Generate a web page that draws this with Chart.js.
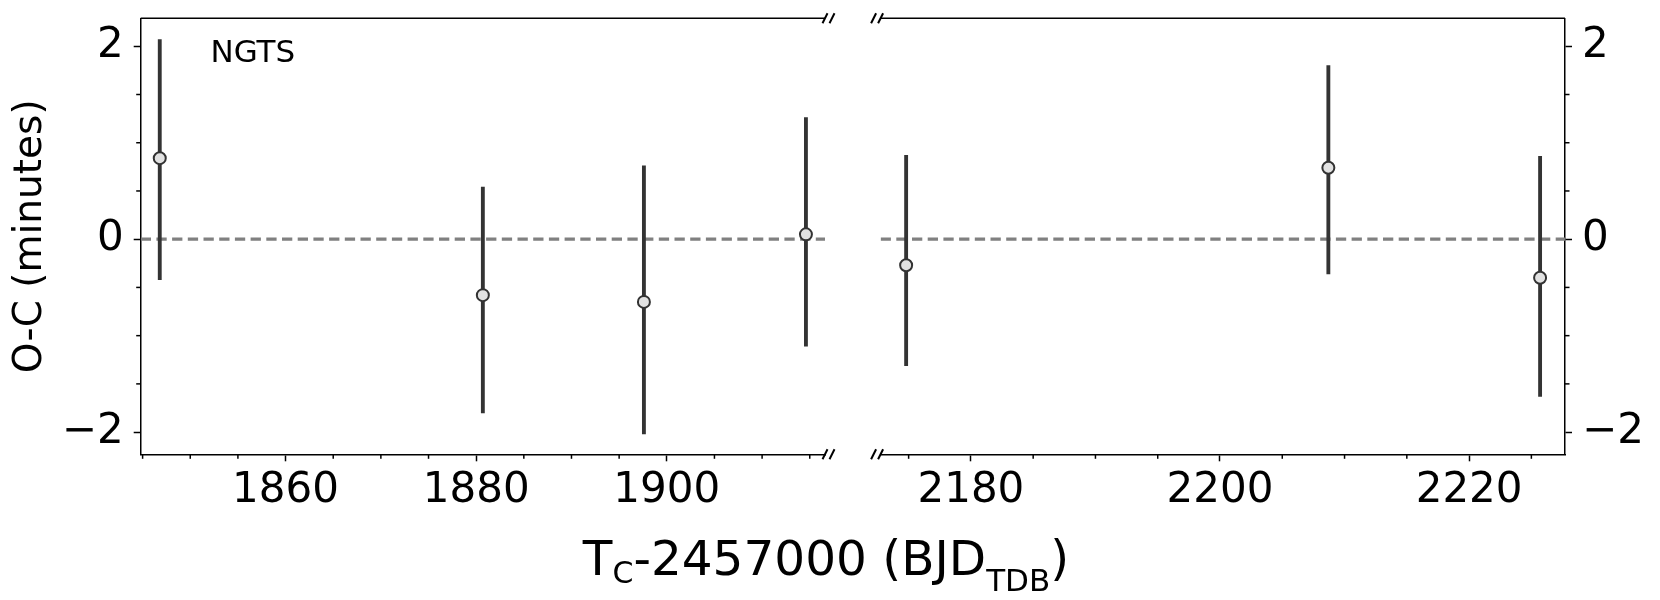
<!DOCTYPE html>
<html>
<head>
<meta charset="utf-8">
<script src="https://cdn.jsdelivr.net/npm/chart.js@4.4.1/dist/chart.umd.min.js"></script>
<style>
  body { margin: 0; background: #fff; }
  #wrap { position: relative; width: 1660px; height: 600px; font-family: 'DejaVu Sans', sans-serif; }
  #leftPanel { position: absolute; left: 0; top: 0; }
  #rightPanel { position: absolute; left: 853px; top: 0; }
  #xtitle { position: absolute; left: 0; width: 1652px; top: 528px; text-align: center;
            font-size: 48.5px; line-height: 60px; color: #000; white-space: nowrap; }
  #xtitle .sub1 { font-size: 30px; position: relative; top: 8px; }
  #xtitle .sub2 { font-size: 31px; position: relative; top: 16px; }
</style>
</head>
<body>
<div id="wrap">
  <canvas id="leftPanel" width="853" height="600"></canvas>
  <canvas id="rightPanel" width="807" height="600"></canvas>
  <div id="xtitle">T<span class="sub1">C</span>-2457000 (BJD<span class="sub2">TDB</span>)</div>
</div>
<script>
// NGTS transit timings, O-C in minutes
const leftEpochs = [1846.8, 1880.7, 1897.6, 1914.6];
const leftOC = [0.84, -0.58, -0.65, 0.05];
const leftErrUp = [1.23, 1.12, 1.41, 1.21];
const leftErrDown = [1.26, 1.22, 1.37, 1.16];

const rightEpochs = [2174.8, 2208.7, 2225.7];
const rightOC = [-0.27, 0.74, -0.40];
const rightErrUp = [1.14, 1.06, 1.26];
const rightErrDown = [1.04, 1.10, 1.23];

const leftRange = [1844.8, 1916.6];
const rightRange = [2172.75, 2227.7];
const ocRange = [-2.23, 2.29];

const leftXTicks = [1860, 1880, 1900];
const rightXTicks = [2180, 2200, 2220];
const ocTicks = [-2, 0, 2];

const FONT = 'DejaVu Sans';

function isMajor(list, v) {
  return list.some(function(t) { return Math.abs(t - v) < 1e-6; });
}

// minor ticks, frame top line and the "//" break marks
const framePlugin = {
  id: 'frame',
  afterDraw: function(chart, args, opts) {
    const ctx = chart.ctx;
    const a = chart.chartArea;
    ctx.save();
    ctx.strokeStyle = '#000';
    ctx.lineWidth = 1.5;

    // minor ticks
    const xs = chart.scales.x;
    xs.ticks.forEach(function(t) {
      if (isMajor(opts.xMajor, t.value)) return;
      const px = xs.getPixelForValue(t.value);
      ctx.beginPath();
      ctx.moveTo(px, a.bottom);
      ctx.lineTo(px, a.bottom + 4.5);
      ctx.stroke();
    });
    const ys = chart.scales.y;
    ys.ticks.forEach(function(t) {
      if (isMajor(ocTicks, t.value)) return;
      const py = ys.getPixelForValue(t.value);
      ctx.beginPath();
      if (opts.side === 'left') {
        ctx.moveTo(a.left, py);
        ctx.lineTo(a.left - 4.5, py);
      } else {
        ctx.moveTo(a.right, py);
        ctx.lineTo(a.right + 4.5, py);
      }
      ctx.stroke();
    });

    // top spine
    ctx.beginPath();
    ctx.moveTo(a.left, a.top);
    ctx.lineTo(a.right, a.top);
    ctx.stroke();

    // break marks
    const bx = opts.side === 'left' ? [a.right, a.right + 7] : [a.left - 7, a.left];
    ctx.lineWidth = 2;
    [a.top, a.bottom].forEach(function(yy) {
      bx.forEach(function(xx) {
        ctx.beginPath();
        ctx.moveTo(xx - 2.5, yy + 5);
        ctx.lineTo(xx + 2.5, yy - 5);
        ctx.stroke();
      });
    });

    // panel label
    if (opts.label) {
      ctx.fillStyle = '#000';
      ctx.font = '31px "' + FONT + '"';
      ctx.textBaseline = 'alphabetic';
      ctx.textAlign = 'left';
      ctx.fillText(opts.label, a.left + 0.102 * (a.right - a.left), a.bottom - 0.9 * (a.bottom - a.top));
    }
    ctx.restore();
  }
};

function makePanel(canvasId, side, epochs, oc, errUp, errDown, xRange, xMajor, label) {
  const bars = epochs.map(function(x, i) {
    return { x: x, y: [oc[i] - errDown[i], oc[i] + errUp[i]] };
  });
  const pts = epochs.map(function(x, i) { return { x: x, y: oc[i] }; });

  const yAxis = {
    type: 'linear',
    position: side,
    min: ocRange[0],
    max: ocRange[1],
    ticks: {
      stepSize: 0.5,
      includeBounds: false,
      autoSkip: false,
      padding: 10,
      color: '#000',
      font: { family: FONT, size: 42 },
      callback: function(v) {
        if (!isMajor(ocTicks, v)) return '';
        return v < 0 ? '\u2212' + Math.abs(v) : String(v);
      }
    },
    grid: {
      drawOnChartArea: false,
      drawTicks: true,
      tickLength: 7,
      tickWidth: 1.5,
      tickColor: function(c) { return c.tick && isMajor(ocTicks, c.tick.value) ? '#000' : 'rgba(0,0,0,0)'; }
    },
    border: { display: true, color: '#000', width: 1.5 },
    afterFit: function(s) {
      s.width = side === 'left' ? 140.7 : 95;
      s.paddingTop = 0;
      s.paddingBottom = 0;
    }
  };
  if (side === 'left') {
    yAxis.title = {
      display: true,
      text: 'O-C (minutes)',
      color: '#000',
      font: { family: FONT, size: 39 },
      padding: { top: 7, bottom: 0 }
    };
  }

  return new Chart(document.getElementById(canvasId), {
    type: 'scatter',
    data: {
      datasets: [
        {
          type: 'line',
          data: [{ x: xRange[0], y: 0 }, { x: xRange[1], y: 0 }],
          borderColor: '#808080',
          borderWidth: 3.2,
          borderDash: [10.3, 5.4],
          pointRadius: 0,
          order: 3
        },
        {
          type: 'bar',
          data: bars,
          backgroundColor: '#333333',
          borderWidth: 0,
          barThickness: 3.2,
          grouped: false,
          order: 2
        },
        {
          type: 'scatter',
          data: pts,
          pointRadius: 6,
          pointBorderWidth: 2,
          pointBackgroundColor: '#e2e2e2',
          pointBorderColor: '#333333',
          order: 1
        }
      ]
    },
    options: {
      responsive: false,
      animation: false,
      layout: {
        padding: side === 'left'
          ? { left: 0, right: 28, top: 18.3, bottom: 0 }
          : { left: 27.6, right: 0, top: 18.3, bottom: 0 }
      },
      plugins: {
        legend: { display: false },
        tooltip: { enabled: false },
        frame: { side: side, xMajor: xMajor, label: label }
      },
      scales: {
        x: {
          type: 'linear',
          position: 'bottom',
          min: xRange[0],
          max: xRange[1],
          offset: false,
          ticks: {
            stepSize: 5,
            includeBounds: false,
            autoSkip: false,
            maxRotation: 0,
            padding: 5,
            color: '#000',
            font: { family: FONT, size: 42 },
            callback: function(v) { return isMajor(xMajor, v) ? String(Math.round(v)) : ''; }
          },
          grid: {
            offset: false,
            drawOnChartArea: false,
            drawTicks: true,
            tickLength: 7,
            tickWidth: 1.5,
            tickColor: function(c) { return c.tick && isMajor(xMajor, c.tick.value) ? '#000' : 'rgba(0,0,0,0)'; }
          },
          border: { display: true, color: '#000', width: 1.5 },
          afterFit: function(s) {
            s.height = 600 - 454.3;
            s.paddingLeft = 0;
            s.paddingRight = 0;
          }
        },
        y: yAxis
      }
    },
    plugins: [framePlugin]
  });
}

makePanel('leftPanel', 'left', leftEpochs, leftOC, leftErrUp, leftErrDown, leftRange, leftXTicks, 'NGTS');
makePanel('rightPanel', 'right', rightEpochs, rightOC, rightErrUp, rightErrDown, rightRange, rightXTicks, null);
</script>
</body>
</html>
